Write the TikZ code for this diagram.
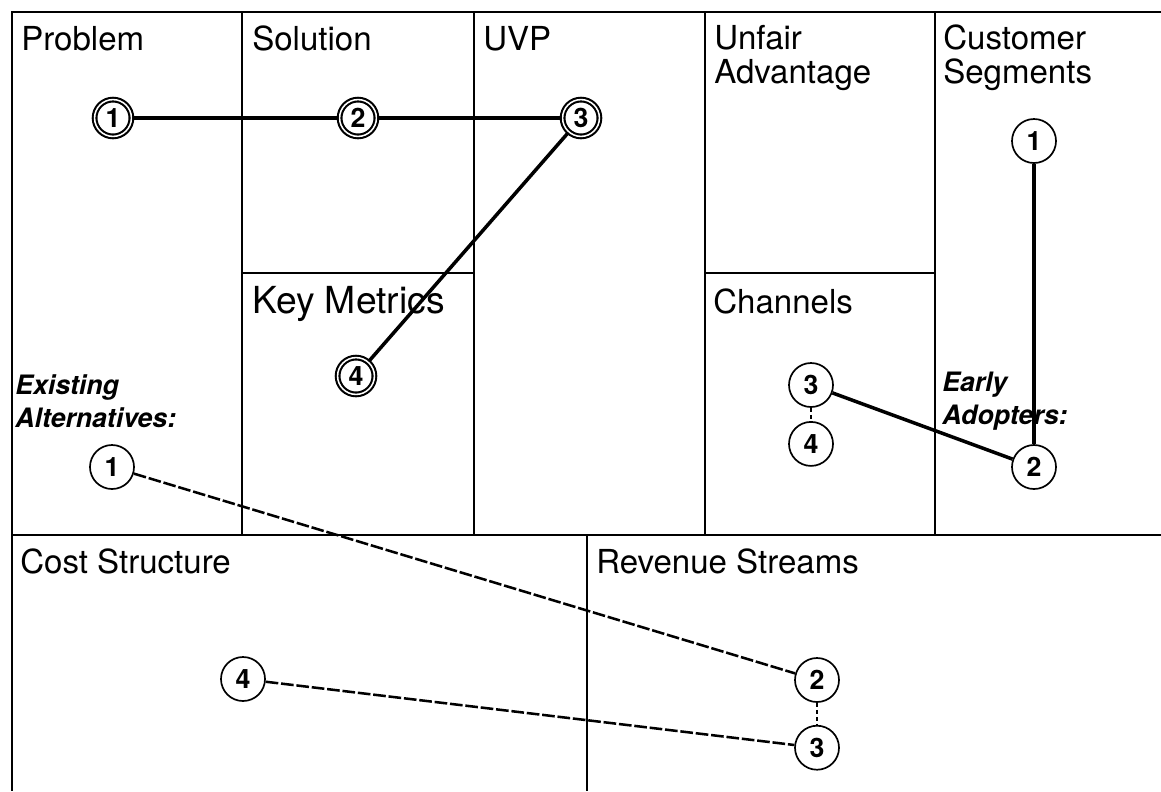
\documentclass[tikz,border=0pt]{standalone}
\usepackage{fontspec}
\setmainfont{TeX Gyre Heros}
\usetikzlibrary{positioning}

\begin{document}
\begin{tikzpicture}[x=0.025cm,y=-0.025cm,
	frame/.style={line width=1.5pt},
	title/.style={anchor=base west,inner sep=0pt,align=left,font=\fontsize{23.5}{23.5}\selectfont},
	note/.style={anchor=base west,inner sep=0pt,align=left,font=\fontsize{19}{23}\selectfont\bfseries\itshape},
	num/.style={circle,draw,line width=1.2pt,minimum size=1.1cm,inner sep=0pt,font=\fontsize{19}{19}\selectfont\bfseries},
	keynum/.style={num,line width=1.5pt,double,double distance=1.1pt,minimum size=0.92cm},
	link/.style={line width=2.5pt},
	dashlink/.style={line width=1.8pt,dash pattern=on 9pt off 2pt},
	stub/.style={line width=0.9pt,densely dashed}]
	\useasboundingbox (0,0) rectangle (1161,791);
	% canvas grid
	\draw[frame] (1161,12) -- (12,12) -- (12,791);
	\draw[frame] (12,535) -- (1161,535);
	\foreach \x in {242,474,705,935}
		\draw[frame] (\x,12) -- (\x,535);
	\draw[frame] (242,273) -- (474,273) (705,273) -- (935,273);
	\draw[frame] (587,535) -- (587,791);

	% block titles (base = last line)
	\node (PROB) [title] at (21,50)  {Problem};
	\node (SOL)  [title] at (252,50) {Solution};
	\node (UVP)  [title] at (483,50) {UVP};
	\node (UNF)  [title] at (714,83) {Unfair\\Advantage};
	\node (CUST) [title] at (943,83) {Customer\\Segments};
	\node (KM)   [title,font=\fontsize{26.5}{26.5}\selectfont] at (252,313) {Key Metrics};
	\node (CHAN) [title] at (713,313) {Channels};
	\node (COST) [title] at (20,573)  {Cost Structure};
	\node (REV)  [title] at (596,573) {Revenue Streams};
	\node (EXIST) [note] at (15,427)  {Existing\\Alternatives:};
	\node (EARLY) [note] at (942,424) {Early\\Adopters:};

	% numbered steps
	\node (P1)  [keynum] at (113,118) {1};
	\node (S2)  [keynum] at (358,118) {2};
	\node (U3)  [keynum] at (581,118) {3};
	\node (K4)  [keynum] at (356,376) {4};
	\node (CS1) [num] at (1034,141) {1};
	\node (CS2) [num] at (1034,467) {2};
	\node (CH3) [num] at (811,385)  {3};
	\node (CH4) [num,below=0.33cm of CH3] {4};
	\node (EA1) [num] at (112,467)  {1};
	\node (CO4) [num] at (243,679)  {4};
	\node (RS2) [num] at (817,680)  {2};
	\node (RS3) [num,below=0.55cm of RS2] {3};

	\draw[link] (P1) -- (S2) -- (U3) -- (K4);
	\draw[link] (CS1) -- (CS2);
	\draw[link] (CH3) -- (CS2);
	\draw[stub] (CH3) -- (CH4);
	\draw[dashlink] (EA1) -- (RS2);
	\draw[dashlink] (CO4) -- (RS3);
	\draw[stub] (RS2) -- (RS3);
\end{tikzpicture}
\end{document}
